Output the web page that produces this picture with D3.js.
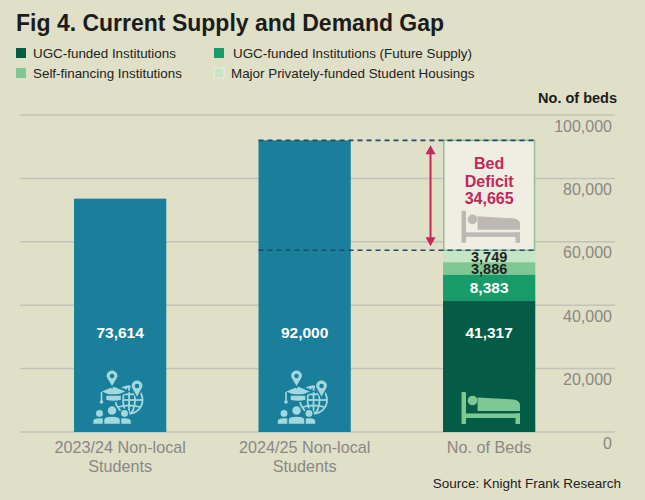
<!DOCTYPE html>
<html><head><meta charset="utf-8">
<script src="https://cdn.jsdelivr.net/npm/d3@7"></script>
<style>
body{margin:0;background:#e0dfc8;}
svg{display:block;font-family:"Liberation Sans",Arial,Helvetica,sans-serif;}
</style>
</head><body>
<svg id="c" width="645" height="500"></svg>
<script>
// ---- data ----
const categories = ["2023/24 Non-local Students", "2024/25 Non-local Students", "No. of Beds"];
const categoryLines = [["2023/24 Non-local", "Students"], ["2024/25 Non-local", "Students"], ["No. of Beds"]];
const studentValues = [73614, 92000];
const supplySeries = ["UGC-funded Institutions", "UGC-funded Institutions (Future Supply)", "Self-financing Institutions", "Major Privately-funded Student Housings"];
const supplyValues = [41317, 8383, 3886, 3749];
const yTicks = [0, 20000, 40000, 60000, 80000, 100000];
const supplyColors = ["#045c46", "#179b69", "#80c893", "#c6e4c6"];
const supplyLabelColors = ["#ffffff", "#ffffff", "#222222", "#222222"];

const svg = d3.select("#c");
const W = 645, H = 500;
svg.append("rect").attr("width", W).attr("height", H).attr("fill", "#e0dfc8");

const y = d3.scaleLinear().domain([0, 100000]).range([432, 115]);
const x = d3.scaleBand().domain(categories).range([27.9, 581.4]).paddingInner(0.5).paddingOuter(0.25);
const bw = x.bandwidth();
const fmt = d3.format(",");

const BAR = "#1a7f9b", GRAY = "#8a8785", CRIMSON = "#c3285a", DASH = "#1e4a6b";

// ---- title & legend ----
svg.append("text").attr("x", 16).attr("y", 31).attr("font-size", 23).attr("font-weight", 700)
  .attr("fill", "#1c1c1c").text("Fig 4. Current Supply and Demand Gap");

const legendPos = [[16, 48], [214, 48], [16, 68], [214, 68]];
const legendTextX = [33, 233, 33, 231];
supplySeries.forEach((s, i) => {
  const [lx, ly] = legendPos[i];
  svg.append("rect").attr("x", lx).attr("y", ly).attr("width", 10).attr("height", 10)
    .attr("fill", supplyColors[i]).attr("stroke", i === 3 ? "#e8efe2" : "none").attr("stroke-width", 1);
  svg.append("text").attr("x", legendTextX[i]).attr("y", ly + 9.5).attr("font-size", 13.4)
    .attr("fill", "#222").text(s);
});

svg.append("text").attr("x", 617).attr("y", 103).attr("text-anchor", "end").attr("font-size", 14.5)
  .attr("font-weight", 700).attr("fill", "#1c1c1c").text("No. of beds");

// ---- grid & y labels ----
yTicks.forEach(t => {
  svg.append("line").attr("x1", 20).attr("x2", 615).attr("y1", y(t)).attr("y2", y(t))
    .attr("stroke", "#c4c0ba").attr("stroke-width", 1.5);
  svg.append("text").attr("x", 612).attr("y", y(t) + 16.5).attr("text-anchor", "end")
    .attr("font-size", 16).attr("fill", GRAY).text(fmt(t));
});

// ---- student bars ----
studentValues.forEach((v, i) => {
  svg.append("rect").attr("x", x(categories[i])).attr("y", y(v)).attr("width", bw)
    .attr("height", y(0) - y(v)).attr("fill", BAR);
});

// ---- supply stack ----
const cum = d3.cumsum(supplyValues);
const bx = x(categories[2]);
supplyValues.forEach((v, i) => {
  const top = cum[i], bot = cum[i] - v;
  svg.append("rect").attr("x", bx).attr("y", y(top)).attr("width", bw)
    .attr("height", y(bot) - y(top)).attr("fill", supplyColors[i]);
});
const totalSupply = cum[cum.length - 1];
const demand = studentValues[1];
const deficit = demand - totalSupply;

// deficit box
svg.append("rect").attr("x", bx + 0.75).attr("y", y(demand)).attr("width", bw - 1.5)
  .attr("height", y(totalSupply) - y(demand)).attr("fill", "#f0ede3")
  .attr("stroke", "#8dbf98").attr("stroke-width", 1.5);

// dashed guide lines
[demand, totalSupply].forEach(v => {
  svg.append("line").attr("x1", x(categories[1])).attr("x2", bx + bw)
    .attr("y1", y(v)).attr("y2", y(v)).attr("stroke", DASH).attr("stroke-width", 1.6)
    .attr("stroke-dasharray", "5,4");
});

// arrow
const ax = bx - 12.5;
const aTop = y(demand) + 5, aBot = y(totalSupply) - 4;
svg.append("line").attr("x1", ax).attr("x2", ax).attr("y1", aTop + 6).attr("y2", aBot - 6)
  .attr("stroke", CRIMSON).attr("stroke-width", 2);
svg.append("path").attr("d", `M${ax},${aTop} L${ax - 5},${aTop + 9} L${ax + 5},${aTop + 9} Z`).attr("fill", CRIMSON);
svg.append("path").attr("d", `M${ax},${aBot} L${ax - 5},${aBot - 9} L${ax + 5},${aBot - 9} Z`).attr("fill", CRIMSON);

// deficit text
const cx3 = bx + bw / 2;
["Bed", "Deficit", fmt(deficit)].forEach((t, i) => {
  svg.append("text").attr("x", cx3).attr("y", y(demand) + 29 + i * 17.5).attr("text-anchor", "middle")
    .attr("font-size", 16).attr("font-weight", 700).attr("fill", CRIMSON).text(t);
});

// ---- value labels ----
const LABEL_Y = 338;
studentValues.forEach((v, i) => {
  svg.append("text").attr("x", x(categories[i]) + bw / 2).attr("y", LABEL_Y).attr("text-anchor", "middle")
    .attr("font-size", 15.5).attr("font-weight", 700).attr("fill", "#fff").text(fmt(v));
});
supplyValues.forEach((v, i) => {
  const top = cum[i], bot = cum[i] - v;
  const ly = i === 0 ? LABEL_Y : (y(top) + y(bot)) / 2 + 5.5;
  svg.append("text").attr("x", cx3).attr("y", ly).attr("text-anchor", "middle")
    .attr("font-size", i >= 2 ? 14.5 : 15.5).attr("font-weight", 700).attr("fill", supplyLabelColors[i]).text(fmt(v));
});

// ---- category labels ----
categoryLines.forEach((lines, i) => {
  lines.forEach((l, j) => {
    svg.append("text").attr("x", x(categories[i]) + bw / 2).attr("y", 453 + j * 18.5)
      .attr("text-anchor", "middle").attr("font-size", 16.2).attr("fill", GRAY).text(l);
  });
});

svg.append("text").attr("x", 621).attr("y", 488).attr("text-anchor", "end").attr("font-size", 13.5)
  .attr("fill", "#222").text("Source: Knight Frank Research");

// ---- icons ----
function bedIcon(ox, oy, col) {
  const g = svg.append("g").attr("transform", `translate(${ox},${oy})`).attr("fill", col);
  g.append("rect").attr("x", 0).attr("y", 0).attr("width", 4.5).attr("height", 32).attr("rx", 1);
  g.append("circle").attr("cx", 11).attr("cy", 8.5).attr("r", 4.8);
  g.append("path").attr("d", "M16,5.5 L52,7.5 Q58.5,8.5 58.5,13 L58.5,19 L16,19 Z");
  g.append("rect").attr("x", 4).attr("y", 21.5).attr("width", 54.5).attr("height", 4.5);
  g.append("rect").attr("x", 54).attr("y", 21.5).attr("width", 4.5).attr("height", 10.5);
}
bedIcon(bx + 18.5, 392, "#80c893");
bedIcon(bx + 18.5, y(demand) + 70.5, "#bdb8b3");

function studentIcon(ox, oy) {
  const C = "#a3d9de";
  const g = svg.append("g").attr("transform", `translate(${ox},${oy})`);
  // globe
  const gl = g.append("g").attr("fill", "none").attr("stroke", C).attr("stroke-width", 1.8);
  gl.append("circle").attr("cx", 36).attr("cy", 30).attr("r", 13.5);
  gl.append("ellipse").attr("cx", 36).attr("cy", 30).attr("rx", 6).attr("ry", 13.5);
  gl.append("line").attr("x1", 36).attr("x2", 36).attr("y1", 16.5).attr("y2", 43.5);
  gl.append("line").attr("x1", 22.5).attr("x2", 49.5).attr("y1", 30).attr("y2", 30);
  gl.append("path").attr("d", "M25,23 Q36,26 47,23 M25,37 Q36,34 47,37");
  // cap
  g.append("path").attr("d", "M20.5,15.5 L35,21.5 L20.5,27.5 L6,21.5 Z").attr("fill", C).attr("stroke", BAR).attr("stroke-width", 2);
  g.append("path").attr("d", "M12.5,25 L28.5,25 L28.5,30.5 Q20.5,32.5 12.5,30.5 Z").attr("fill", C).attr("stroke", BAR).attr("stroke-width", 1.5);
  g.append("line").attr("x1", 8.5).attr("x2", 8.5).attr("y1", 22).attr("y2", 31).attr("stroke", C).attr("stroke-width", 1.6);
  g.append("circle").attr("cx", 8.5).attr("cy", 32).attr("r", 1.8).attr("fill", C);
  // people
  const person = (cx, cy, r, w, top) => {
    g.append("circle").attr("cx", cx).attr("cy", cy).attr("r", r).attr("fill", C).attr("stroke", BAR).attr("stroke-width", 1.5);
    g.append("path").attr("d", `M${cx - w / 2},54.5 L${cx - w / 2},${top + 4} Q${cx - w / 2},${top} ${cx},${top} Q${cx + w / 2},${top} ${cx + w / 2},${top + 4} L${cx + w / 2},54.5 Z`)
      .attr("fill", C).attr("stroke", BAR).attr("stroke-width", 1.5);
  };
  person(6.5, 43.5, 4.2, 14, 47.5);
  person(31.5, 43.5, 4.2, 14, 47.5);
  person(19, 40.5, 5, 17, 46);
  // pins
  const pin = (cx, cy, r, tip) => {
    g.append("path").attr("d", `M${cx},${tip} L${cx - r * 0.85},${cy + r * 0.5} A${r},${r} 0 1 1 ${cx + r * 0.85},${cy + r * 0.5} Z`)
      .attr("fill", C).attr("stroke", BAR).attr("stroke-width", 1.5);
    g.append("circle").attr("cx", cx).attr("cy", cy).attr("r", r * 0.38).attr("fill", BAR);
  };
  pin(19, 6, 6, 17.5);
  pin(44, 16, 6, 28);
}
studentIcon(x(categories[0]) + 19, 370);
studentIcon(x(categories[1]) + 19, 370);
</script>
</body></html>
